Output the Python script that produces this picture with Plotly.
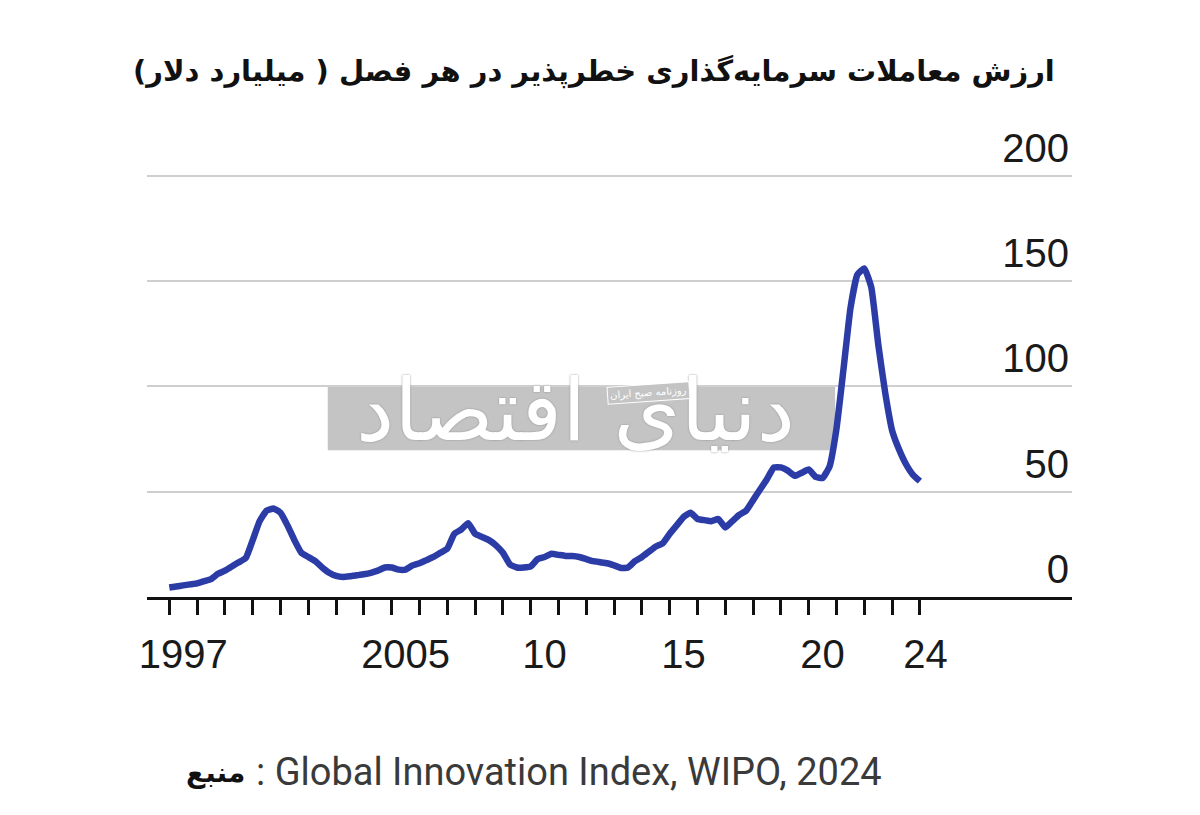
import plotly.graph_objects as go

# Quarterly venture capital deal value (billion USD), Q1 1997 .. Q1 2024
years = list(range(1997, 2025))
quarterly_values = [
    4.5, 5, 5.5, 6,          # 1997
    6.5, 7.5, 8.5, 11,       # 1998
    12.5, 14.5, 16.5, 18.5,  # 1999
    27, 36, 41, 42,          # 2000
    40, 34, 27, 21,          # 2001
    19, 17, 14, 11.5,        # 2002
    10, 9.5, 9.8, 10.3,      # 2003
    10.8, 11.5, 12.5, 14,    # 2004
    14, 13, 13, 15,          # 2005
    16, 17.5, 19, 21,        # 2006
    23, 30, 32, 35,          # 2007
    30, 28.5, 27, 24.5,      # 2008
    21, 15.5, 14, 14,        # 2009
    14.5, 18, 19, 20.5,      # 2010
    20, 19.5, 19.5, 19,      # 2011
    18, 17, 16.5, 16,        # 2012
    15, 13.8, 14, 17,        # 2013
    19, 21.5, 24, 25.5,      # 2014
    30, 34, 38, 40,          # 2015
    37, 36.5, 36, 37,        # 2016
    33, 36, 39, 41,          # 2017
    46, 51, 56, 61.5,        # 2018
    61.5, 60, 57.5, 59,      # 2019
    60.5, 57, 56.5, 62,      # 2020
    80, 108, 137, 153,       # 2021
    156, 147, 120, 97,       # 2022
    79, 70, 63, 58,          # 2023
    55,                      # 2024 Q1
]
quarter_x = [1997 + i / 4 for i in range(len(quarterly_values))]

label_positions = [1997.5, 2005.5, 2010.5, 2015.5, 2020.5, 2024.2]
label_texts = ["1997", "2005", "10", "15", "20", "24"]
y_ticks = [0, 50, 100, 150, 200]

title_text = "ارزش معاملات سرمایه‌گذاری خطرپذیر در هر فصل ( میلیارد دلار)"
source_label = "منبع"
source_text = ": Global Innovation Index, WIPO, 2024"

x_range = [1996.198, 2029.47]
y_range = [0, 225]

fig = go.Figure()
fig.add_trace(go.Scatter(
    x=quarter_x, y=quarterly_values, mode="lines",
    line=dict(color="#2c3ca6", width=6.5, shape="spline", smoothing=0.4),
    hoverinfo="skip", showlegend=False,
))
# invisible trace to carry the label axis
fig.add_trace(go.Scatter(
    x=[label_positions[0]], y=[0], xaxis="x2", mode="markers",
    marker=dict(opacity=0), hoverinfo="skip", showlegend=False,
))

axis_font = dict(family="Liberation Sans, Arial, sans-serif", size=40, color="#1a1a1a")

fig.update_layout(
    width=1192, height=807,
    paper_bgcolor="white", plot_bgcolor="white",
    margin=dict(l=139, r=128, t=115, b=218),
    xaxis=dict(
        range=x_range, tickvals=years, ticks="outside", ticklen=15,
        tickwidth=3, tickcolor="#111", showticklabels=False,
        showline=True, linecolor="#111", linewidth=3,
        showgrid=False, zeroline=False, fixedrange=True,
    ),
    xaxis2=dict(
        range=x_range, overlaying="x", anchor="y", side="bottom",
        tickvals=label_positions, ticktext=label_texts,
        ticks="outside", ticklen=22, tickcolor="rgba(0,0,0,0)",
        showline=False, showgrid=False, zeroline=False,
        tickfont=axis_font,
    ),
    yaxis=dict(
        range=y_range, side="right", tickvals=y_ticks,
        ticks="", ticklabelposition="inside top",
        showgrid=True, gridcolor="#cfcfcf", gridwidth=2,
        zeroline=False, showline=False,
        tickfont=axis_font,
    ),
    shapes=[
        dict(type="rect", xref="x", yref="y", x0=2002.7, x1=2020.95,
             y0=69.7, y1=99.7, fillcolor="#c4c4c4", line=dict(width=0),
             layer="below"),
    ],
    annotations=[
        dict(text="<b>" + title_text + "</b>", xref="paper", yref="paper",
             x=(1057 - 147) / 925, y=1.1076, xanchor="right", yanchor="middle",
             showarrow=False,
             font=dict(family="DejaVu Sans, Noto Sans, sans-serif", size=29, color="#111")),
        dict(text="<b>" + source_label + "</b>", xref="paper", yref="paper",
             x=(247 - 147) / 925, y=-0.3692, xanchor="right", yanchor="middle",
             showarrow=False,
             font=dict(family="DejaVu Sans, sans-serif", size=28, color="#111")),
        dict(text=source_text, xref="paper", yref="paper",
             x=(254 - 147) / 925, y=-0.3692, xanchor="left", yanchor="middle",
             showarrow=False,
             font=dict(family="Liberation Sans Narrow, Roboto, sans-serif", size=38, color="#3a3a3a")),
        dict(text="دنیای اقتصاد", xref="paper", yref="paper",
             x=(575 - 147) / 925, y=0.3945, xanchor="center", yanchor="middle",
             showarrow=False,
             font=dict(family="DejaVu Sans, sans-serif", size=86, color="white",
                       shadow="0px 0px 2px #8a8a8a")),
        dict(text="روزنامه صبح ایران", xref="paper", yref="paper",
             x=(648 - 147) / 925, y=0.4304, xanchor="center", yanchor="middle",
             showarrow=False, textangle=-4, bgcolor="#c4c4c4",
             bordercolor="white", borderwidth=1, borderpad=2,
             font=dict(family="DejaVu Sans, sans-serif", size=10, color="white")),
    ],
)

fig.write_html("out.html")
